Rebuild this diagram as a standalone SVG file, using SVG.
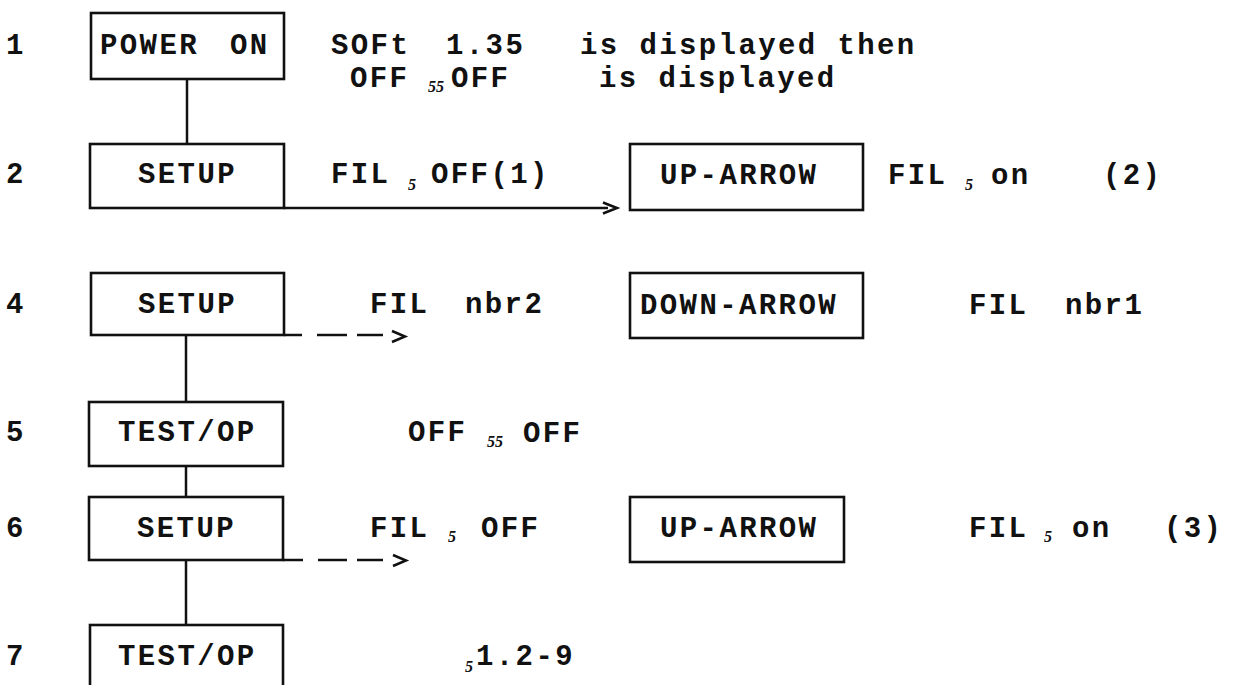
<svg xmlns="http://www.w3.org/2000/svg" width="1236" height="685" viewBox="0 0 1236 685">
<style>
.t{font-family:"Liberation Mono","Courier New",monospace;font-weight:bold;font-size:29px;letter-spacing:2.4px;fill:#111}
.s{font-family:"Liberation Serif","Times New Roman",serif;font-style:italic;font-weight:bold;font-size:16px;fill:#111}
.b{fill:none;stroke:#111;stroke-width:2.6}
.c{fill:none;stroke:#111;stroke-width:2.5}
</style>
<rect width="1236" height="685" fill="#fff"/>
<g id="labels">
<text class="t" x="6" y="54">1</text>
<text class="t" x="6" y="183">2</text>
<text class="t" x="6" y="313">4</text>
<text class="t" x="6" y="441">5</text>
<text class="t" x="6" y="537">6</text>
<text class="t" x="6" y="665">7</text>
</g>
<g id="n1">
<rect class="b" x="91" y="13" width="193" height="66"/>
<text class="t" x="100" y="54">POWER</text>
<text class="t" x="230" y="54">ON</text>
</g>
<g id="n2">
<rect class="b" x="90" y="144" width="194" height="64"/>
<text class="t" x="138" y="183">SETUP</text>
</g>
<g id="n3">
<rect class="b" x="630" y="144" width="233" height="66"/>
<text class="t" x="660" y="184">UP-ARROW</text>
</g>
<g id="n4">
<rect class="b" x="91" y="273" width="193" height="62"/>
<text class="t" x="138" y="313">SETUP</text>
</g>
<g id="n5">
<rect class="b" x="630" y="273" width="233" height="65"/>
<text class="t" x="640" y="314">DOWN-ARROW</text>
</g>
<g id="n6">
<rect class="b" x="89" y="402" width="194" height="64"/>
<text class="t" x="118" y="441">TEST/OP</text>
</g>
<g id="n7">
<rect class="b" x="89" y="497" width="194" height="63"/>
<text class="t" x="137" y="537">SETUP</text>
</g>
<g id="n8">
<rect class="b" x="630" y="497" width="214" height="65"/>
<text class="t" x="660" y="537">UP-ARROW</text>
</g>
<g id="n9">
<rect class="b" x="90" y="625" width="193" height="80"/>
<text class="t" x="118" y="665">TEST/OP</text>
</g>
<g id="connectors">
<line class="c" x1="187" y1="79" x2="187" y2="144"/>
<line class="c" x1="186" y1="335" x2="186" y2="402"/>
<line class="c" x1="186" y1="466" x2="186" y2="497"/>
<line class="c" x1="186" y1="560" x2="186" y2="625"/>
<line class="c" x1="284" y1="208" x2="608" y2="208"/>
<path class="c" d="M603,202.5 L617,208 L603,213.5"/>
<line class="c" x1="284" y1="335" x2="302" y2="335"/>
<line class="c" x1="317" y1="335" x2="347" y2="335"/>
<line class="c" x1="357" y1="335" x2="383" y2="335"/>
<path class="c" d="M392,331 L405,336.5 L392,342"/>
<line class="c" x1="283" y1="560" x2="303" y2="560"/>
<line class="c" x1="318" y1="560" x2="347" y2="560"/>
<line class="c" x1="357" y1="560" x2="383" y2="560"/>
<path class="c" d="M393,555 L406,560.5 L393,566"/>
</g>
<g id="notes">
<text class="t" x="331" y="54">SOFt</text>
<text class="t" x="446" y="54">1.35</text>
<text class="t" x="580" y="54">is displayed then</text>
<text class="t" x="350" y="87">OFF</text>
<text class="s" x="428" y="92">55</text>
<text class="t" x="451" y="87">OFF</text>
<text class="t" x="599" y="87">is displayed</text>
<text class="t" x="331" y="183">FIL</text>
<text class="s" x="408" y="190">5</text>
<text class="t" x="431" y="183">OFF(1)</text>
<text class="t" x="888" y="184">FIL</text>
<text class="s" x="965" y="190">5</text>
<text class="t" x="991" y="184">on</text>
<text class="t" x="1103" y="184">(2)</text>
<text class="t" x="370" y="313">FIL</text>
<text class="t" x="465" y="313">nbr2</text>
<text class="t" x="969" y="314">FIL</text>
<text class="t" x="1065" y="314">nbr1</text>
<text class="t" x="408" y="441">OFF</text>
<text class="s" x="487" y="447">55</text>
<text class="t" x="523" y="442">OFF</text>
<text class="t" x="370" y="537">FIL</text>
<text class="s" x="448" y="542">5</text>
<text class="t" x="481" y="537">OFF</text>
<text class="t" x="969" y="537">FIL</text>
<text class="s" x="1044" y="542">5</text>
<text class="t" x="1072" y="537">on</text>
<text class="t" x="1164" y="537">(3)</text>
<text class="s" x="465" y="672">5</text>
<text class="t" x="476" y="665">1.2-9</text>
</g>
</svg>
